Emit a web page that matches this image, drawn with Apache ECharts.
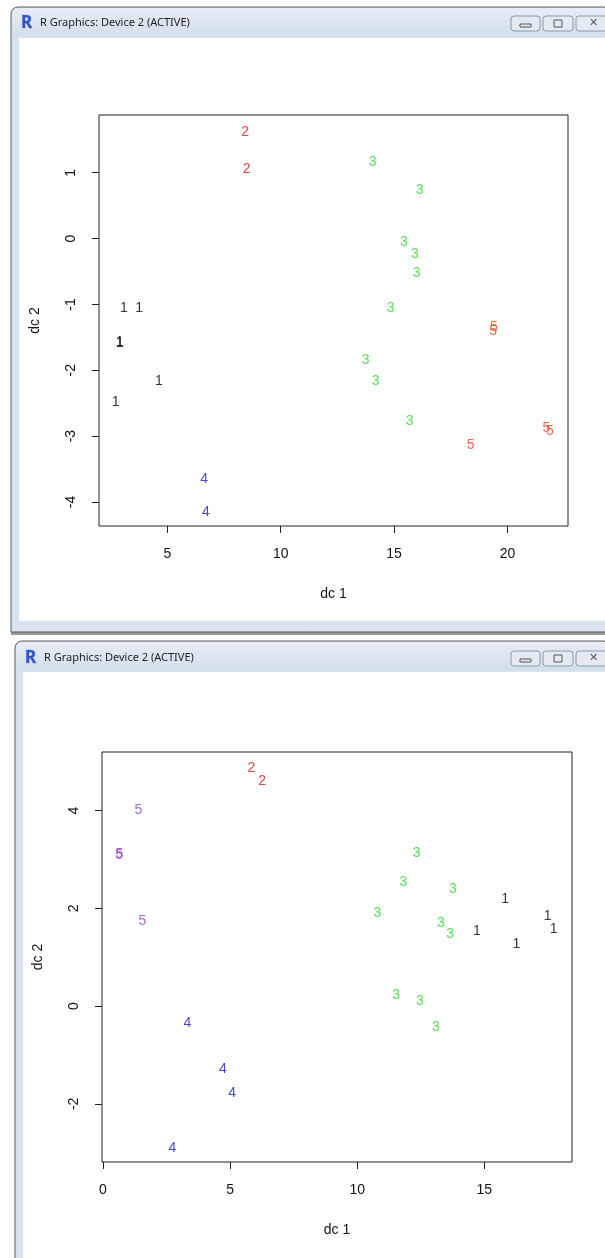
<!DOCTYPE html>
<html>
<head>
<meta charset="utf-8">
<script src="https://cdn.jsdelivr.net/npm/echarts@6/dist/echarts.min.js"></script>
<style>
  html, body { margin: 0; padding: 0; background: #fff; }
  #main { width: 605px; height: 1258px; }
</style>
</head>
<body>
<div id="main"></div>
<script>
// upper device: group labels and their coordinates
const topG1X = [3.08, 3.75, 2.90, 2.91, 4.63, 2.72]
const topG1Y = [-1.06, -1.05, -1.57, -1.59, -2.16, -2.48]
const topG2X = [8.43, 8.50]
const topG2Y = [1.61, 1.05]
const topG3X = [14.05, 16.13, 15.43, 15.92, 15.99, 14.85, 13.75, 14.19, 15.69]
const topG3Y = [1.16, 0.73, -0.06, -0.24, -0.53, -1.05, -1.85, -2.16, -2.78]
const topG4X = [6.62, 6.70]
const topG4Y = [-3.66, -4.16]
const topG5X = [19.40, 19.37, 21.72, 21.87, 18.38]
const topG5Y = [-1.34, -1.41, -2.88, -2.92, -3.14]
const topXTicks = [5, 10, 15, 20]
const topYTicks = [-4, -3, -2, -1, 0, 1]

// lower device
const botG1X = [15.82, 14.71, 17.49, 17.73, 16.26]
const botG1Y = [2.19, 1.53, 1.84, 1.57, 1.26]
const botG2X = [5.84, 6.26]
const botG2Y = [4.86, 4.61]
const botG3X = [12.34, 11.82, 13.76, 10.79, 13.29, 13.66, 11.53, 12.47, 13.10]
const botG3Y = [3.14, 2.54, 2.39, 1.90, 1.70, 1.47, 0.23, 0.11, -0.44]
const botG4X = [3.32, 4.72, 5.08, 2.73]
const botG4Y = [-0.34, -1.29, -1.79, -2.91]
const botG5X = [1.39, 0.63, 0.64, 1.55]
const botG5Y = [4.02, 3.09, 3.10, 1.74]
const botXTicks = [0, 5, 10, 15]
const botYTicks = [-2, 0, 2, 4]

const FONT = '"Liberation Sans", Arial, sans-serif'
const UI_FONT = '"Noto Sans", "DejaVu Sans", sans-serif'

// 把 x/y 两个数组拼成散点序列，用数字本身当作标记
function labelSeries(name, xs, ys, color, gridIdx) {
  return {
    type: 'scatter',
    name: name,
    xAxisIndex: gridIdx,
    yAxisIndex: gridIdx,
    symbolSize: 0,
    silent: true,
    data: xs.map((x, i) => [x, ys[i]]),
    label: {
      show: true,
      position: 'inside',
      formatter: name,
      color: color,
      fontFamily: FONT,
      fontSize: 14
    }
  }
}

function xAxisFor(gridIdx, min, max, ticks) {
  return {
    gridIndex: gridIdx,
    type: 'value',
    min: min,
    max: max,
    splitLine: { show: false },
    axisLine: { show: false, onZero: false },
    axisTick: { show: true, inside: false, length: 7, customValues: ticks, lineStyle: { color: '#222' } },
    axisLabel: { customValues: ticks, margin: 21, color: '#111', fontFamily: FONT, fontSize: 14 },
    name: 'dc 1',
    nameLocation: 'middle',
    nameGap: 61,
    nameTextStyle: { color: '#111', fontFamily: FONT, fontSize: 14 }
  }
}

function yAxisFor(gridIdx, min, max, ticks) {
  return {
    gridIndex: gridIdx,
    type: 'value',
    min: min,
    max: max,
    splitLine: { show: false },
    axisLine: { show: false, onZero: false },
    axisTick: { show: true, inside: false, length: 7, customValues: ticks, lineStyle: { color: '#222' } },
    axisLabel: { customValues: ticks, rotate: 90, margin: 21, color: '#111', fontFamily: FONT, fontSize: 14 },
    name: 'dc 2',
    nameLocation: 'middle',
    nameRotate: 90,
    nameGap: 57,
    nameTextStyle: { color: '#111', fontFamily: FONT, fontSize: 14 }
  }
}

// window frame drawn behind the plots
function windowChrome(x, y, h, titleY) {
  const els = []
  els.push({
    type: 'rect', z: -20,
    shape: { x: x, y: y, width: 610 - x, height: h, r: [7, 7, 0, 0] },
    style: { fill: '#d9e4f0', stroke: '#5a5a5a', lineWidth: 1 }
  })
  els.push({
    type: 'rect', z: -19,
    shape: { x: x + 1, y: y + 1, width: 609 - x, height: 29, r: [6, 6, 0, 0] },
    style: {
      fill: new echarts.graphic.LinearGradient(0, 0, 0, 1, [
        { offset: 0, color: '#e6edf5' },
        { offset: 1, color: '#d3deeb' }
      ])
    }
  })
  els.push({
    type: 'rect', z: -18,
    shape: { x: x + 8, y: y + 31, width: 610 - x - 8, height: h - 42 },
    style: { fill: '#ffffff' }
  })
  els.push({
    type: 'text', z: -17, x: x + 10, y: titleY,
    style: { text: 'R', fontFamily: UI_FONT, fontWeight: 'bold', fontSize: 17, fill: '#2f56c8', stroke: '#a8b8e6', lineWidth: 1, verticalAlign: 'middle' }
  })
  els.push({
    type: 'text', z: -17, x: x + 29, y: titleY,
    style: { text: 'R Graphics: Device 2 (ACTIVE)', fontFamily: UI_FONT, fontSize: 11, fill: '#1e1e1e', verticalAlign: 'middle' }
  })
  const bx = [511, 543, 576]
  const bw = [29, 30, 32]
  bx.forEach((b, i) => {
    els.push({
      type: 'rect', z: -17,
      shape: { x: b, y: titleY - 7, width: bw[i], height: 15, r: 3 },
      style: { fill: '#e3eaf2', stroke: '#8d9aab', lineWidth: 1 }
    })
  })
  els.push({ type: 'rect', z: -16, shape: { x: 520, y: titleY + 1, width: 11, height: 3 }, style: { fill: 'none', stroke: '#555', lineWidth: 1 } })
  els.push({ type: 'rect', z: -16, shape: { x: 554, y: titleY - 3, width: 8, height: 7 }, style: { fill: 'none', stroke: '#555', lineWidth: 1 } })
  els.push({ type: 'text', z: -16, x: 589, y: titleY, style: { text: '✕', fontSize: 11, fill: '#555', align: 'left', verticalAlign: 'middle' } })
  return els
}

const graphics = []
  .concat(windowChrome(11, 7, 625, 23))
  .concat([{ type: 'rect', z: -21, shape: { x: 11, y: 631, width: 600, height: 4 }, style: { fill: '#9a9a9a' } }])
  .concat(windowChrome(15, 641, 640, 658))

const option = {
  animation: false,
  backgroundColor: '#fff',
  graphic: graphics,
  grid: [
    { left: 99, top: 115, width: 469, height: 411, show: true, borderColor: '#222', borderWidth: 1, backgroundColor: 'transparent' },
    { left: 102, top: 752, width: 470, height: 410, show: true, borderColor: '#222', borderWidth: 1, backgroundColor: 'transparent' }
  ],
  xAxis: [
    xAxisFor(0, 1.985, 22.67, topXTicks),
    xAxisFor(1, -0.04, 18.45, botXTicks)
  ],
  yAxis: [
    yAxisFor(0, -4.365, 1.877, topYTicks),
    yAxisFor(1, -3.19, 5.20, botYTicks)
  ],
  series: [
    labelSeries('1', topG1X, topG1Y, '#000000', 0),
    labelSeries('2', topG2X, topG2Y, '#e0101e', 0),
    labelSeries('3', topG3X, topG3Y, '#30d830', 0),
    labelSeries('4', topG4X, topG4Y, '#1414d0', 0),
    labelSeries('5', topG5X, topG5Y, '#ee4420', 0),
    labelSeries('1', botG1X, botG1Y, '#000000', 1),
    labelSeries('2', botG2X, botG2Y, '#e0101e', 1),
    labelSeries('3', botG3X, botG3Y, '#30d830', 1),
    labelSeries('4', botG4X, botG4Y, '#1414d0', 1),
    labelSeries('5', botG5X, botG5Y, '#9a40cc', 1)
  ]
}

const myChart = echarts.init(document.getElementById('main'), null, { renderer: 'canvas' })
myChart.setOption(option)
</script>
</body>
</html>
